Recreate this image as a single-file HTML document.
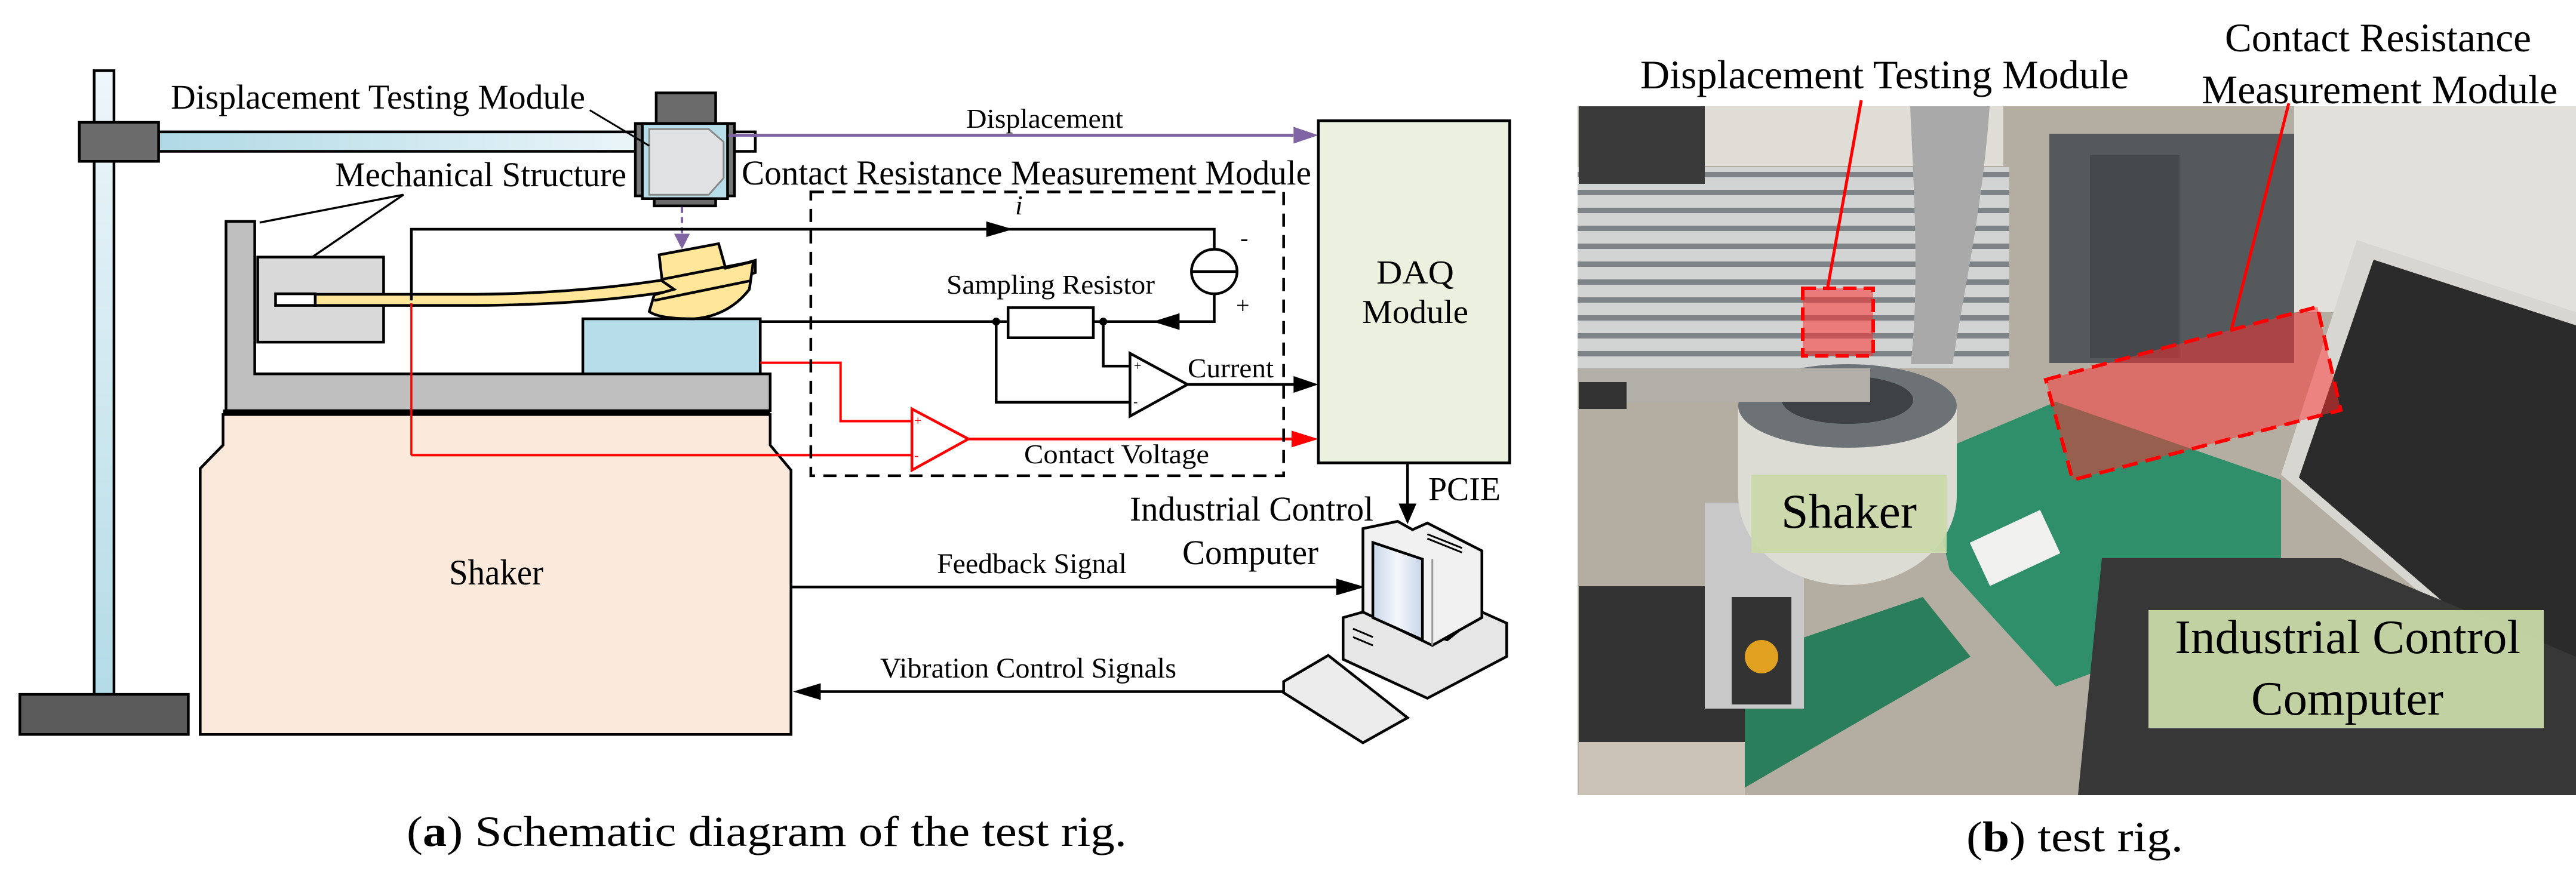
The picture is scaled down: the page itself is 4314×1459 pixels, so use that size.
<!DOCTYPE html>
<html><head><meta charset="utf-8"><style>
html,body{margin:0;padding:0;background:#fff;}
svg{display:block}
text{font-family:"Liberation Serif","Times New Roman",serif;fill:#000}
</style></head><body>
<svg width="4314" height="1459" viewBox="0 0 4314 1459" xmlns="http://www.w3.org/2000/svg" font-family="Liberation Serif, serif">
<defs>
<linearGradient id="pole" x1="0" x2="0" y1="0" y2="1"><stop offset="0" stop-color="#eef6fa"/><stop offset="1" stop-color="#b3dbe6"/></linearGradient>
<linearGradient id="arm" x1="0" x2="1" y1="0" y2="0"><stop offset="0" stop-color="#b0d9e5"/><stop offset="1" stop-color="#eaf5f9"/></linearGradient>
<linearGradient id="scr" x1="0" x2="1"><stop offset="0" stop-color="#c9d5e8"/><stop offset=".5" stop-color="#f4f7fb"/><stop offset="1" stop-color="#c9d5e8"/></linearGradient>
<pattern id="grille" width="40" height="30" patternUnits="userSpaceOnUse"><rect width="40" height="30" fill="#d2d4d4"/><rect y="18" width="40" height="9" fill="#7d8386"/></pattern>
</defs>

<g transform="scale(1.66,0.932)" stroke="#000" stroke-width="4.5" stroke-linejoin="miter">
<rect x="95" y="127" width="20" height="1121" fill="url(#pole)" vector-effect="non-scaling-stroke"/>
<rect x="20" y="1248" width="170" height="72" fill="#5a5a5a" vector-effect="non-scaling-stroke"/>
<rect x="160" y="237" width="485" height="35" fill="url(#arm)" vector-effect="non-scaling-stroke"/>
<rect x="80" y="220" width="80" height="70" fill="#6b6b6b" vector-effect="non-scaling-stroke"/>
<rect x="662" y="167" width="60" height="55" fill="#6b6b6b" vector-effect="non-scaling-stroke"/>
<rect x="660" y="355" width="62" height="15" fill="#6b6b6b" vector-effect="non-scaling-stroke"/>
<rect x="740" y="237" width="22" height="35" fill="#fff" vector-effect="non-scaling-stroke"/>
<rect x="641" y="222" width="10" height="130" fill="#777" vector-effect="non-scaling-stroke"/>
<rect x="731" y="222" width="10" height="130" fill="#777" vector-effect="non-scaling-stroke"/>
<rect x="648" y="222" width="86" height="135" fill="#b7dde8" vector-effect="non-scaling-stroke"/>
<polygon points="655,232 715,232 730,255 730,320 715,350 655,350" fill="#dfe1e2" stroke="#888" stroke-width="3" vector-effect="non-scaling-stroke"/>
<line x1="595" y1="198" x2="655" y2="262" stroke-width="3" vector-effect="non-scaling-stroke"/>
<polyline points="262,400 407,350 315,462" fill="none" stroke-width="3.5" vector-effect="non-scaling-stroke"/>
<line x1="735" y1="243" x2="1305" y2="243" stroke="#7f63a3" stroke-width="5" vector-effect="non-scaling-stroke"/>
<polygon points="1305,228 1330,243 1305,258" fill="#7f63a3" stroke="none"/>
<line x1="688" y1="372" x2="688" y2="425" stroke="#7f63a3" stroke-width="4" stroke-dasharray="10,7" vector-effect="non-scaling-stroke"/>
<polygon points="680,420 696,420 688,448" fill="#7f63a3" stroke="none"/>
<polygon points="228,398 257,398 257,672 777,672 777,738 228,738" fill="#bfbfbf" vector-effect="non-scaling-stroke"/>
<rect x="225" y="736" width="552" height="9" fill="#000" stroke="none"/>
<rect x="260" y="462" width="127" height="153" fill="#d9d9d9" vector-effect="non-scaling-stroke"/>
<polygon points="225,745 777,745 777,800 798,845 798,1320 202,1320 202,842 225,800" fill="#fbe9dc" vector-effect="non-scaling-stroke"/>
<rect x="588" y="573" width="179" height="99" fill="#b7dde8" vector-effect="non-scaling-stroke"/>
<path d="M318,529 L480,529 C600,527 700,500 762,468 L762,490 C700,524 600,548 480,549 L318,549 Z" fill="#ffe699" vector-effect="non-scaling-stroke"/>
<rect x="278" y="528" width="40" height="21" fill="#fff" vector-effect="non-scaling-stroke"/>
<path d="M665,458 L725,438 L732,482 L760,470 L756,520 Q735,568 700,573 Q665,573 655,560 L660,530 L680,520 L668,505 Z" fill="#ffe699" vector-effect="non-scaling-stroke"/>
<line x1="660" y1="540" x2="756" y2="505" vector-effect="non-scaling-stroke"/>
<line x1="668" y1="502" x2="760" y2="470" vector-effect="non-scaling-stroke"/>
<polyline points="415,540 415,412 1225,412 1225,447" fill="none" vector-effect="non-scaling-stroke"/>
<polygon points="995,398 1022,412 995,426" fill="#000" stroke="none"/>
<ellipse cx="1225" cy="488" rx="23" ry="40" fill="#fff" vector-effect="non-scaling-stroke"/>
<line x1="1202" y1="488" x2="1248" y2="488" vector-effect="non-scaling-stroke"/>
<polyline points="767,578 1225,578 1225,528" fill="none" vector-effect="non-scaling-stroke"/>
<polygon points="1190,563 1163,578 1190,593" fill="#000" stroke="none"/>
<rect x="1017" y="553" width="86" height="54" fill="#fff" vector-effect="non-scaling-stroke"/>
<ellipse cx="1005" cy="578" rx="4" ry="7" fill="#000" stroke="none"/>
<ellipse cx="1113" cy="578" rx="4" ry="7" fill="#000" stroke="none"/>
<polyline points="1113,578 1113,658 1140,658" fill="none" vector-effect="non-scaling-stroke"/>
<polyline points="1005,578 1005,723 1140,723" fill="none" vector-effect="non-scaling-stroke"/>
<polygon points="1140,635 1140,748 1198,691" fill="#fff" vector-effect="non-scaling-stroke"/>
<line x1="1198" y1="691" x2="1308" y2="691" vector-effect="non-scaling-stroke"/>
<polygon points="1305,676 1330,691 1305,706" fill="#000" stroke="none"/>
<g stroke="#ff0000">
<line x1="415" y1="545" x2="415" y2="818" stroke-width="3.5" vector-effect="non-scaling-stroke"/>
<line x1="415" y1="818" x2="920" y2="818" stroke-width="4" vector-effect="non-scaling-stroke"/>
<polyline points="767,652 848,652 848,757 920,757" fill="none" stroke-width="4" vector-effect="non-scaling-stroke"/>
<polygon points="920,735 920,845 977,789" fill="#fff" stroke-width="4.5" vector-effect="non-scaling-stroke"/>
<line x1="977" y1="789" x2="1305" y2="789" stroke-width="4.5" vector-effect="non-scaling-stroke"/>
<polygon points="1303,774 1330,789 1303,804" fill="#ff0000" stroke="none"/>
</g>
<rect x="818" y="345" width="477" height="510" fill="none" stroke-dasharray="22,14" vector-effect="non-scaling-stroke"/>
<rect x="1330" y="217" width="193" height="615" fill="#ebf1de" vector-effect="non-scaling-stroke"/>
<line x1="1420" y1="832" x2="1420" y2="910" vector-effect="non-scaling-stroke"/>
<polygon points="1411,905 1429,905 1420,942" fill="#000" stroke="none"/>
<line x1="798" y1="1055" x2="1350" y2="1055" vector-effect="non-scaling-stroke"/>
<polygon points="1348,1040 1377,1055 1348,1070" fill="#000" stroke="none"/>
<line x1="828" y1="1243" x2="1297" y2="1243" vector-effect="non-scaling-stroke"/>
<polygon points="828,1228 800,1243 828,1258" fill="#000" stroke="none"/>
<polygon points="1355,1110 1375,1100 1460,1150 1495,1100 1520,1120 1520,1180 1440,1255 1355,1185" fill="#e6e6e6" vector-effect="non-scaling-stroke"/>
<polygon points="1375,950 1410,937 1425,952 1440,940 1495,990 1495,1110 1445,1160 1375,1100" fill="#f0f0f0" vector-effect="non-scaling-stroke"/>
<polygon points="1385,975 1435,1005 1435,1150 1385,1110" fill="url(#scr)" vector-effect="non-scaling-stroke"/>
<line x1="1445" y1="1005" x2="1445" y2="1160" stroke="#999" stroke-width="3" vector-effect="non-scaling-stroke"/>
<polygon points="1295,1225 1340,1178 1420,1290 1375,1335 1295,1245" fill="#ececec" vector-effect="non-scaling-stroke"/>
<line x1="1440" y1="960" x2="1475" y2="985" stroke-width="3" vector-effect="non-scaling-stroke"/>
<line x1="1440" y1="968" x2="1475" y2="993" stroke-width="3" vector-effect="non-scaling-stroke"/>
<line x1="1365" y1="1130" x2="1385" y2="1145" stroke-width="3" vector-effect="non-scaling-stroke"/>
<line x1="1365" y1="1145" x2="1385" y2="1160" stroke-width="3" vector-effect="non-scaling-stroke"/>
</g>

<text x="286" y="182" font-size="58" textLength="694" lengthAdjust="spacingAndGlyphs">Displacement Testing Module</text>
<text x="561" y="312" font-size="58" textLength="488" lengthAdjust="spacingAndGlyphs">Mechanical Structure</text>
<text x="1242" y="309" font-size="58" textLength="954" lengthAdjust="spacingAndGlyphs">Contact Resistance Measurement Module</text>
<text x="1618" y="214" font-size="46" textLength="263" lengthAdjust="spacingAndGlyphs">Displacement</text>
<text x="1700" y="359" font-size="46" font-style="italic">i</text>
<text x="2077" y="412" font-size="40">-</text>
<text x="2070" y="525" font-size="40">+</text>
<text x="1585" y="492" font-size="46" textLength="349" lengthAdjust="spacingAndGlyphs">Sampling Resistor</text>
<text x="1899" y="620" font-size="22">+</text>
<text x="1898" y="680" font-size="22">-</text>
<text x="1531" y="712" font-size="22" style="fill:#f00">+</text>
<text x="1531" y="770" font-size="22" style="fill:#f00">-</text>
<text x="1989" y="632" font-size="46" textLength="144" lengthAdjust="spacingAndGlyphs">Current</text>
<text x="1715" y="776" font-size="46" textLength="310" lengthAdjust="spacingAndGlyphs">Contact Voltage</text>
<text x="2370" y="475" font-size="56" text-anchor="middle" textLength="130" lengthAdjust="spacingAndGlyphs">DAQ</text>
<text x="2370" y="541" font-size="56" text-anchor="middle" textLength="178" lengthAdjust="spacingAndGlyphs">Module</text>
<text x="2392" y="838" font-size="56" textLength="121" lengthAdjust="spacingAndGlyphs">PCIE</text>
<text x="1892" y="872" font-size="58" textLength="408" lengthAdjust="spacingAndGlyphs">Industrial Control</text>
<text x="1980" y="945" font-size="58" textLength="228" lengthAdjust="spacingAndGlyphs">Computer</text>
<text x="1569" y="960" font-size="48" textLength="318" lengthAdjust="spacingAndGlyphs">Feedback Signal</text>
<text x="1474" y="1135" font-size="48" textLength="496" lengthAdjust="spacingAndGlyphs">Vibration Control Signals</text>
<text x="752" y="979" font-size="60" textLength="158" lengthAdjust="spacingAndGlyphs">Shaker</text>
<text x="681" y="1417" font-size="72" textLength="1206" lengthAdjust="spacingAndGlyphs">(<tspan font-weight="bold">a</tspan>) Schematic diagram of the test rig.</text>

<svg x="2642" y="178" width="1672" height="1154" viewBox="2642 178 1672 1154">
<rect x="2642" y="178" width="1672" height="1154" fill="#b4ada1"/>
<rect x="2642" y="280" width="723" height="337" fill="url(#grille)"/>
<rect x="2644" y="178" width="211" height="130" fill="#3a3a3a"/>
<rect x="2855" y="178" width="500" height="100" fill="#e0ddd6"/>
<path d="M3199,178 L3332,178 C3320,350 3290,480 3270,610 L3200,610 C3215,470 3205,320 3199,178 Z" fill="#a9a9a9"/>
<rect x="3432" y="224" width="410" height="384" fill="#55595c"/>
<rect x="3500" y="260" width="150" height="340" fill="#46494c"/>
<rect x="3842" y="178" width="472" height="345" fill="#e2e0da"/>
<polygon points="3947,402 4314,523 4314,1215 3820,795" fill="#d8d6d0"/>
<polygon points="3975,435 4314,545 4314,1200 3850,800" fill="#2b2b2b"/>
<polygon points="3221,767 3443,673 3820,804 3820,1010 3443,1150 3265,954" fill="#2f8f6a"/>
<polygon points="2780,1150 3220,1000 3300,1100 2900,1332 2780,1332" fill="#2a7e5c"/>
<rect x="2644" y="982" width="278" height="261" fill="#333"/>
<rect x="2855" y="842" width="166" height="345" fill="#c8c8c8"/>
<rect x="2900" y="1000" width="100" height="180" fill="#333"/>
<circle cx="2950" cy="1100" r="28" fill="#e0a020"/>
<ellipse cx="3094" cy="830" rx="183" ry="150" fill="#dcdbd4"/>
<rect x="2911" y="680" width="366" height="150" fill="#dcdbd4"/>
<ellipse cx="3094" cy="680" rx="183" ry="70" fill="#6d7277"/>
<ellipse cx="3094" cy="670" rx="110" ry="40" fill="#3e4246"/>
<rect x="2644" y="617" width="488" height="56" fill="#b2afa8"/>
<rect x="2644" y="640" width="80" height="45" fill="#333"/>
<polygon points="3520,935 3920,935 4314,1100 4314,1332 3480,1332" fill="#373737"/>
<rect x="3310" y="880" width="130" height="80" fill="#f0f0ee" transform="rotate(-25 3370 920)"/>
<rect x="2644" y="1243" width="278" height="89" fill="#c9c2b5"/>
</svg>
<rect x="3019" y="483" width="118" height="113" fill="#ff3030" fill-opacity="0.55" stroke="#ff0000" stroke-width="6" stroke-dasharray="22,12"/>
<polygon points="3426,636 3881,514 3920,687 3471,804" fill="#ff3030" fill-opacity="0.5" stroke="#ff0000" stroke-width="6" stroke-dasharray="26,14"/>
<line x1="3117" y1="168" x2="3060" y2="486" stroke="#ff0000" stroke-width="5"/>
<line x1="3833" y1="173" x2="3737" y2="552" stroke="#ff0000" stroke-width="5"/>
<rect x="2933" y="795" width="327" height="131" fill="#c9d9a8" fill-opacity="0.92"/>
<text x="2983" y="884" font-size="82" textLength="227" lengthAdjust="spacingAndGlyphs">Shaker</text>
<rect x="3598" y="1022" width="662" height="198" fill="#c9d9a8" fill-opacity="0.95"/>
<text x="3642" y="1094" font-size="80" textLength="579" lengthAdjust="spacingAndGlyphs">Industrial Control</text>
<text x="3770" y="1197" font-size="80" textLength="322" lengthAdjust="spacingAndGlyphs">Computer</text>
<text x="2747" y="148" font-size="68" textLength="818" lengthAdjust="spacingAndGlyphs">Displacement Testing Module</text>
<text x="3726" y="86" font-size="68" textLength="513" lengthAdjust="spacingAndGlyphs">Contact Resistance</text>
<text x="3687" y="173" font-size="68" textLength="596" lengthAdjust="spacingAndGlyphs">Measurement Module</text>
<text x="3293" y="1426" font-size="72" textLength="363" lengthAdjust="spacingAndGlyphs">(<tspan font-weight="bold">b</tspan>) test rig.</text>
</svg>
</body></html>
